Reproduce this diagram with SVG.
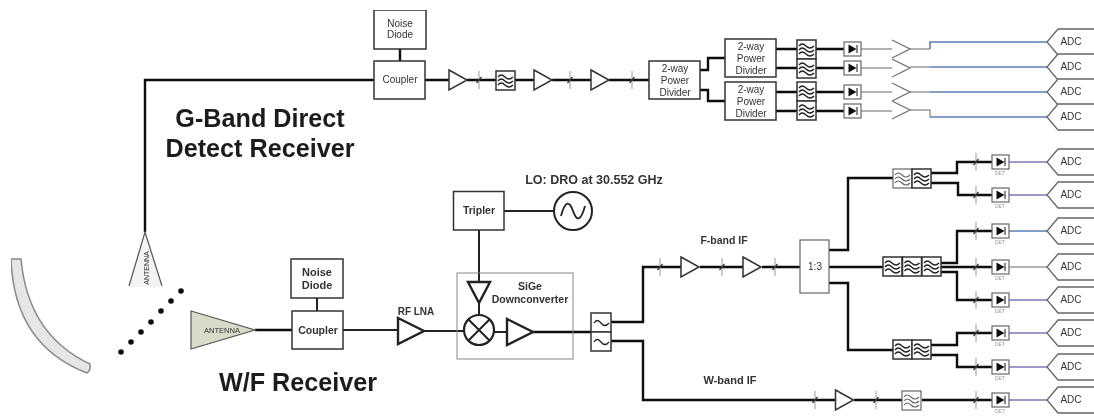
<svg xmlns="http://www.w3.org/2000/svg" width="1094" height="416" viewBox="0 0 1094 416">
<style>
text{font-family:"Liberation Sans",Arial,sans-serif;fill:#333;text-anchor:middle;font-size:10px}
.b{font-weight:bold;font-size:10.500px}
.h{font-size:25.200px;font-weight:bold;fill:#1c1c1c}
.l{font-size:10px;font-weight:bold;fill:#333}
.s{font-size:5px;fill:#999}
.box{fill:#fff;stroke:#333;stroke-width:1.5}
.thin{fill:#fff;stroke:#666;stroke-width:1.2}
.w{fill:none;stroke:#111;stroke-width:2.400}
.w2{fill:none;stroke:#222;stroke-width:2}
.a{fill:#fff;stroke:#333;stroke-width:1.5}
.a2{fill:#fff;stroke:#222;stroke-width:2.400}
.g{fill:none;stroke:#999;stroke-width:1.5}
.bl{fill:none;stroke:#5b7fb5;stroke-width:1.600}
.p{fill:none;stroke:#7b78b8;stroke-width:1.600}
.ad{fill:#fff;stroke:#666;stroke-width:1.300}
</style>
<defs>
<filter id="soft" x="0" y="0" width="100%" height="100%"><feGaussianBlur stdDeviation="0.4"/></filter>
<g id="tick"><path d="M0-9V9" stroke="#999" stroke-width="1" fill="none"/><path d="M-2.500 3L2.500-3" stroke="#333" stroke-width="1.200" fill="none"/></g>
<g id="amp"><path class="a" d="M-9-10L9 0L-9 10Z"/></g>
<g id="filt"><rect class="box" width="19" height="19"/><path d="M2 6Q5 2 9 6T17 6M2 10Q5 6 9 10T17 10M2 14Q5 10 9 14T17 14" fill="none" stroke="#222" stroke-width="1.300"/></g>
<g id="filtL"><rect class="thin" width="19" height="19"/><path d="M2 6Q5 2 9 6T17 6M2 10Q5 6 9 10T17 10M2 14Q5 10 9 14T17 14" fill="none" stroke="#666" stroke-width="1.100"/></g>
<g id="diode"><rect class="thin" x="0" y="-7" width="17" height="14"/><path d="M4.500-4.500L12.500 0L4.500 4.500Z" fill="#111"/><path d="M13-4V4" stroke="#111"/></g>
<g id="chev"><path d="M-9-9L9 0L-9 9" fill="none" stroke="#777" stroke-width="1.300"/></g>
<path id="adc" class="ad" d="M48-13H11L0 0L11 13H48"/>
</defs>
<rect width="1094" height="416" fill="#fff"/>
<g filter="url(#soft)">
<g id="connectors">
<path class="w" d="M145 232V80H374M425 80H449M467 80H496M515 80H534M552 80H591M609 80H649"/>
<path class="w" d="M400 49V61M700 70H708V58H725M700 90H708V101H725M776 49H797M776 68H797M776 92H797M776 111H797"/>
<path class="w" d="M816 49H844M816 68H844M816 92H844M816 111H844"/>
<path class="g" d="M861 49H892M861 68H892M861 92H892M861 111H892M910 49H930M910 67H930M910 92H930M910 110H930V117"/>
<path class="bl" d="M930 49V42H1047M930 67H1047M930 92H1047M930 117H1047"/>
<path class="w" d="M255 330H292"/>
<path class="w2" d="M317 298V311M343 330H398M424 331H464M504 211H554M479 230V282M479 303V315M494 332H507"/>
<path class="w" d="M533 332H591M611 322H643V267H681M700 267H743M762 267H800M611 341H643V400H835M854 400H902M922 400H992"/>
<path class="w" d="M829 250H848V178H893M931 173H957V162H992M931 183H958V195H992M829 267H883M941 263H957V231H992M941 267H992M941 272H957V300H992M829 283H848V350H893M931 345H957V333H992M931 355H957V367H992"/>
<path class="p" d="M1009 162H1047M1009 195H1047M1009 300H1047M1009 333H1047M1009 367H1047M1009 400H1047"/>
<path class="bl" d="M1009 231H1047"/>
<path class="g" d="M1009 267H1047"/>
</g>
<g id="ticks">
<use href="#tick" x="479" y="80"/><use href="#tick" x="570" y="80"/><use href="#tick" x="632" y="80"/>
<use href="#tick" x="660" y="267"/><use href="#tick" x="722" y="267"/><use href="#tick" x="775" y="267"/>
<use href="#tick" x="976" y="162"/><use href="#tick" x="976" y="195"/><use href="#tick" x="976" y="231"/><use href="#tick" x="976" y="267"/><use href="#tick" x="976" y="300"/><use href="#tick" x="976" y="333"/><use href="#tick" x="976" y="367"/><use href="#tick" x="976" y="400"/>
<use href="#tick" x="815" y="400"/><use href="#tick" x="876" y="400"/>
</g>
<g id="dish"><path d="M11 259Q14 345 87 373Q91 370 90 364Q28 335 21 259Z" fill="#e6e6e6" stroke="#888" stroke-width="1.500"/></g>
<g id="dots" fill="#111"><circle cx="181" cy="291" r="2.800"/><circle cx="171" cy="301" r="2.800"/><circle cx="161" cy="311" r="2.800"/><circle cx="151" cy="322" r="2.800"/><circle cx="141" cy="332" r="2.800"/><circle cx="131" cy="342" r="2.800"/><circle cx="121" cy="352" r="2.800"/></g>
<g id="antenna-g"><path d="M145 232L129 287H162Z" fill="#f3f3f1" stroke="none"/><path d="M129 286L145 232L162 286" fill="none" stroke="#555" stroke-width="1.200"/><text transform="translate(149 268) rotate(-90)" style="font-size:7px">ANTENNA</text></g>
<g id="antenna-wf"><path d="M191 311L255 330L191 349Z" fill="#d9dbc9" stroke="#555" stroke-width="1.200"/><text x="222" y="333" style="font-size:7.500px">ANTENNA</text></g>
<g id="noise-g"><rect class="box" x="374" y="10" width="52" height="39"/><text x="400" y="27">Noise</text><text x="400" y="38">Diode</text></g>
<g id="coupler-g"><rect class="box" x="374" y="61" width="51" height="38"/><text x="400" y="83">Coupler</text></g>
<g id="amp-g1"><use href="#amp" x="458" y="80"/></g>
<g id="filter-g"><use href="#filt" x="496" y="71"/></g>
<g id="amp-g2"><use href="#amp" x="543" y="80"/></g>
<g id="amp-g3"><use href="#amp" x="600" y="80"/></g>
<g id="divider-1"><rect class="box" x="649" y="61" width="51" height="38"/><text x="675" y="72">2-way</text><text x="675" y="84">Power</text><text x="675" y="96">Divider</text></g>
<g id="divider-2"><rect class="box" x="725" y="39" width="51" height="38"/><text x="751" y="50">2-way</text><text x="751" y="62">Power</text><text x="751" y="74">Divider</text></g>
<g id="divider-3"><rect class="box" x="725" y="82" width="51" height="38"/><text x="751" y="93">2-way</text><text x="751" y="105">Power</text><text x="751" y="117">Divider</text></g>
<g id="filters-g"><use href="#filt" x="797" y="40"/><use href="#filt" x="797" y="59"/><use href="#filt" x="797" y="82"/><use href="#filt" x="797" y="101"/></g>
<g id="diodes-g"><use href="#diode" x="844" y="49"/><use href="#diode" x="844" y="68"/><use href="#diode" x="844" y="92"/><use href="#diode" x="844" y="111"/></g>
<g id="amps-out"><use href="#chev" x="901" y="49"/><use href="#chev" x="901" y="68"/><use href="#chev" x="901" y="92"/><use href="#chev" x="901" y="110"/></g>
<g id="adc-g"><use href="#adc" x="1047" y="42"/><text x="1071" y="45">ADC</text><use href="#adc" x="1047" y="67"/><text x="1071" y="70">ADC</text><use href="#adc" x="1047" y="92"/><text x="1071" y="95">ADC</text><use href="#adc" x="1047" y="117"/><text x="1071" y="120">ADC</text></g>
<g id="noise-wf"><rect class="box" x="291" y="259" width="52" height="39"/><text class="b" x="317" y="276" style="font-size:11px">Noise</text><text class="b" x="317" y="289" style="font-size:11px">Diode</text></g>
<g id="coupler-wf"><rect class="box" x="292" y="311" width="51" height="38"/><text class="b" x="318" y="334">Coupler</text></g>
<g id="lna"><path class="a2" d="M398 318L424 331L398 344Z"/><text class="l" x="416" y="315">RF LNA</text></g>
<g id="tripler"><rect class="box" x="453.500" y="191.500" width="50.500" height="38.500"/><text class="b" x="479" y="214">Tripler</text></g>
<g id="lo"><circle cx="573" cy="211" r="19" fill="#fff" stroke="#222" stroke-width="2"/><path d="M561 216Q567 194 573 211T585 206" fill="none" stroke="#222" stroke-width="1.800"/><text class="l" x="594" y="184" style="font-size:12.500px">LO: DRO at 30.552 GHz</text></g>
<g id="sige"><rect x="457" y="273" width="116" height="86" fill="none" stroke="#888" stroke-width="1"/><text class="b" x="530" y="290">SiGe</text><text class="b" x="530" y="303">Downconverter</text><path class="a2" d="M468 282H490L479 303Z"/><circle cx="479" cy="330" r="15" fill="#fff" stroke="#222" stroke-width="2.200"/><path d="M468 319L490 341M490 319L468 341" stroke="#222" stroke-width="2"/><path class="a2" d="M507 319L533 332L507 345Z"/></g>
<g id="diplexer"><rect class="box" x="591" y="313" width="20" height="19"/><rect class="box" x="591" y="332" width="20" height="19"/><path d="M594 323Q597 318 601 323T609 323M594 342Q597 337 601 342T609 342" fill="none" stroke="#222" stroke-width="1.300"/></g>
<g id="f-if"><text class="b" x="724" y="244">F-band IF</text><use href="#amp" x="690" y="267"/><use href="#amp" x="752" y="267"/></g>
<g id="splitter"><rect class="thin" x="800" y="240" width="29" height="53"/><text x="815" y="270">1:3</text></g>
<g id="filters-f1"><use href="#filtL" x="893" y="169"/><use href="#filt" x="912" y="169"/></g>
<g id="filters-f2"><use href="#filt" x="883" y="257"/><use href="#filt" x="902.500" y="257"/><use href="#filt" x="922" y="257"/></g>
<g id="filters-f3"><use href="#filt" x="893" y="340"/><use href="#filt" x="912" y="340"/></g>
<g id="w-if"><text class="b" x="730" y="384" style="font-size:11px">W-band IF</text><use href="#amp" x="844.500" y="400"/><use href="#filtL" x="902" y="391"/></g>
<g id="diodes-wf"><use href="#diode" x="992" y="162"/><text class="s" x="1000" y="175">DET</text><use href="#diode" x="992" y="195"/><text class="s" x="1000" y="208">DET</text><use href="#diode" x="992" y="231"/><text class="s" x="1000" y="244">DET</text><use href="#diode" x="992" y="267"/><text class="s" x="1000" y="280">DET</text><use href="#diode" x="992" y="300"/><text class="s" x="1000" y="313">DET</text><use href="#diode" x="992" y="333"/><text class="s" x="1000" y="346">DET</text><use href="#diode" x="992" y="367"/><text class="s" x="1000" y="380">DET</text><use href="#diode" x="992" y="400"/><text class="s" x="1000" y="413">DET</text></g>
<g id="adc-wf"><use href="#adc" x="1047" y="162"/><text x="1071" y="165">ADC</text><use href="#adc" x="1047" y="195"/><text x="1071" y="198">ADC</text><use href="#adc" x="1047" y="231"/><text x="1071" y="234">ADC</text><use href="#adc" x="1047" y="267"/><text x="1071" y="270">ADC</text><use href="#adc" x="1047" y="300"/><text x="1071" y="303">ADC</text><use href="#adc" x="1047" y="333"/><text x="1071" y="336">ADC</text><use href="#adc" x="1047" y="367"/><text x="1071" y="370">ADC</text><use href="#adc" x="1047" y="400"/><text x="1071" y="403">ADC</text></g>
<g id="titles"><text class="h" x="260" y="127">G-Band Direct</text><text class="h" x="260" y="157">Detect Receiver</text><text class="h" x="298" y="391">W/F Receiver</text></g>
</g>
</svg>
